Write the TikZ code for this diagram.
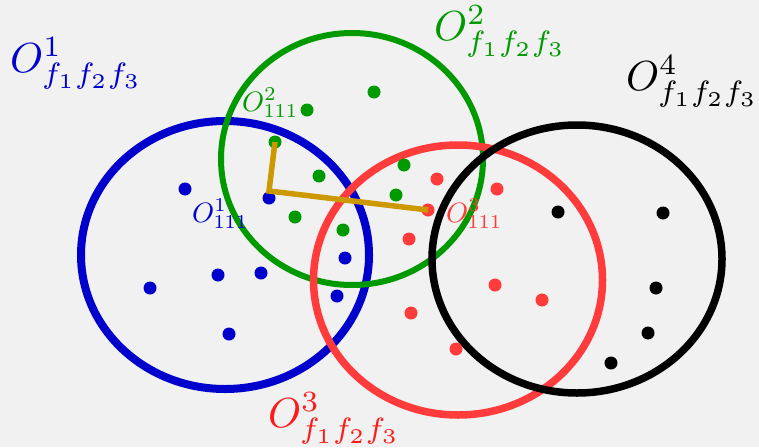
\documentclass[tikz,border=0pt]{standalone}
\usepackage{graphicx}
\definecolor{bgc}{HTML}{F1F1F1}
\definecolor{cblue}{HTML}{0000CC}
\definecolor{cgreen}{HTML}{009900}
\definecolor{cred}{HTML}{FF3B3B}
\definecolor{cgold}{HTML}{CC9900}
\newcommand{\biglabtext}[1]{\scalebox{4.2}{$#1$}}
\newcommand{\smalllabtext}[1]{\scalebox{2.8}{$#1$}}
\begin{document}
\begin{tikzpicture}[x=1pt,y=-1pt,
  dotb/.style={circle,fill=cblue,inner sep=0pt,minimum size=13pt},
  dotg/.style={circle,fill=cgreen,inner sep=0pt,minimum size=13pt},
  dotr/.style={circle,fill=cred,inner sep=0pt,minimum size=13pt},
  dotk/.style={circle,fill=black,inner sep=0pt,minimum size=13pt},
  biglab/.style={inner sep=0pt,anchor=base west},
  smalllab/.style={inner sep=0pt,anchor=base west}]
\fill[bgc] (0,0) rectangle (759,447);
\useasboundingbox (0,0) rectangle (759,447);
% ellipses
\draw[cblue,line width=8pt] (225,255) ellipse [x radius=144, y radius=134];
\draw[cgreen,line width=6pt] (352,159) ellipse [x radius=131, y radius=126];
\draw[cred,line width=7.5pt] (458,280) ellipse [x radius=144.5, y radius=135];
\draw[black,line width=7.5pt] (577,259) ellipse [x radius=145, y radius=134];
% blue dots
\node[dotb] (b1) at (185,189) {};
\node[dotb] (b2) at (269,198) {};
\node[dotb] (b3) at (150,288) {};
\node[dotb] (b4) at (218,275) {};
\node[dotb] (b5) at (261,273) {};
\node[dotb] (b6) at (345,258) {};
\node[dotb] (b7) at (337,296) {};
\node[dotb] (b8) at (229,334) {};
% green dots
\node[dotg] (g1) at (307,110) {};
\node[dotg] (g2) at (374,92) {};
\node[dotg] (g3) at (275,142) {};
\node[dotg] (g4) at (319,176) {};
\node[dotg] (g5) at (404,165) {};
\node[dotg] (g6) at (396,195) {};
\node[dotg] (g7) at (295,217) {};
\node[dotg] (g8) at (343,230) {};
% red dots
\node[dotr] (r1) at (437,179) {};
\node[dotr] (r2) at (497,189) {};
\node[dotr] (r3) at (428,210) {};
\node[dotr] (r4) at (409,239) {};
\node[dotr] (r5) at (495,285) {};
\node[dotr] (r6) at (542,300) {};
\node[dotr] (r7) at (411,313) {};
\node[dotr] (r8) at (456,349) {};
% black dots
\node[dotk] (k1) at (558,212) {};
\node[dotk] (k2) at (663,213) {};
\node[dotk] (k3) at (656,288) {};
\node[dotk] (k4) at (648,333) {};
\node[dotk] (k5) at (611,363) {};
% gold path
\coordinate (corner) at (269,191);
\draw[cgold,line width=5.5pt] (g3.center) -- (corner) -- (r3.center);
% labels
\node[biglab,text=cblue] (L1) at (10,72) {\biglabtext{O^1_{f_1f_2f_3}}};
\node[biglab,text=cgreen] (L2) at (434,40) {\biglabtext{O^2_{f_1f_2f_3}}};
\node[biglab,text=red!90!white] (L3) at (268,427) {\biglabtext{O^3_{f_1f_2f_3}}};
\node[biglab,text=black] (L4) at (626,90) {\biglabtext{O^4_{f_1f_2f_3}}};
\node[smalllab,text=cgreen] (s2) at (242,111) {\smalllabtext{O^2_{111}}};
\node[smalllab,text=cblue] (s1) at (192,222) {\smalllabtext{O^1_{111}}};
\node[smalllab,text=cred] (s3) at (446,222) {\smalllabtext{O^3_{111}}};
\end{tikzpicture}
\end{document}
